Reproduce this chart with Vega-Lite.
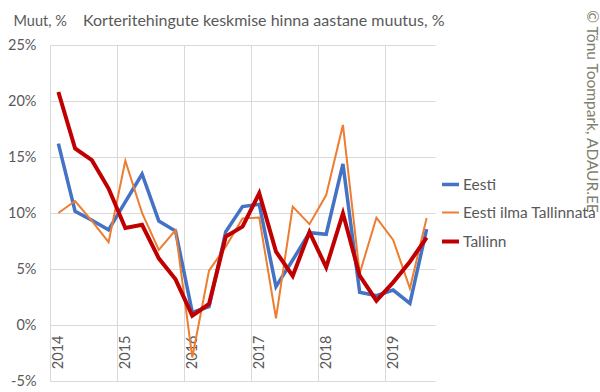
{
  "$schema": "https://vega.github.io/schema/vega-lite/v6.json",
  "width": 385,
  "height": 336,
  "autosize": {"type": "none"},
  "padding": {"left": 50, "top": 45, "right": 165, "bottom": 11},
  "background": "white",
  "config": {"font": "Lato", "view": {"stroke": null}},
  "title": {
    "text": "Korteritehingute keskmise hinna aastane muutus, %",
    "anchor": "start",
    "frame": "group",
    "dx": 33,
    "offset": -33,
    "baseline": "alphabetic",
    "fontSize": 16,
    "fontWeight": "normal",
    "color": "#595959"
  },
  "data": {
    "values": [
      {"i": 0, "Eesti": 16.2, "Eesti ilma Tallinnata": 10.0, "Tallinn": 20.8},
      {"i": 1, "Eesti": 10.15, "Eesti ilma Tallinnata": 11.07, "Tallinn": 15.76},
      {"i": 2, "Eesti": 9.35, "Eesti ilma Tallinnata": 9.3, "Tallinn": 14.72},
      {"i": 3, "Eesti": 8.5, "Eesti ilma Tallinnata": 7.4, "Tallinn": 12.18},
      {"i": 4, "Eesti": 11.0, "Eesti ilma Tallinnata": 14.66, "Tallinn": 8.66},
      {"i": 5, "Eesti": 13.48, "Eesti ilma Tallinnata": 10.0, "Tallinn": 8.95},
      {"i": 6, "Eesti": 9.29, "Eesti ilma Tallinnata": 6.7, "Tallinn": 5.95},
      {"i": 7, "Eesti": 8.39, "Eesti ilma Tallinnata": 8.48, "Tallinn": 4.08},
      {"i": 8, "Eesti": 1.13, "Eesti ilma Tallinnata": -2.9, "Tallinn": 0.83},
      {"i": 9, "Eesti": 1.64, "Eesti ilma Tallinnata": 4.85, "Tallinn": 1.88},
      {"i": 10, "Eesti": 8.33, "Eesti ilma Tallinnata": 7.0, "Tallinn": 7.89},
      {"i": 11, "Eesti": 10.57, "Eesti ilma Tallinnata": 9.52, "Tallinn": 8.78},
      {"i": 12, "Eesti": 10.77, "Eesti ilma Tallinnata": 9.6, "Tallinn": 11.76},
      {"i": 13, "Eesti": 3.42, "Eesti ilma Tallinnata": 0.6, "Tallinn": 6.55},
      {"i": 14, "Eesti": 5.8, "Eesti ilma Tallinnata": 10.57, "Tallinn": 4.38},
      {"i": 15, "Eesti": 8.24, "Eesti ilma Tallinnata": 9.0, "Tallinn": 8.3},
      {"i": 16, "Eesti": 8.1, "Eesti ilma Tallinnata": 11.6, "Tallinn": 5.15},
      {"i": 17, "Eesti": 14.38, "Eesti ilma Tallinnata": 17.86, "Tallinn": 9.97},
      {"i": 18, "Eesti": 2.92, "Eesti ilma Tallinnata": 4.6, "Tallinn": 4.4},
      {"i": 19, "Eesti": 2.62, "Eesti ilma Tallinnata": 9.58, "Tallinn": 2.17},
      {"i": 20, "Eesti": 3.12, "Eesti ilma Tallinnata": 7.6, "Tallinn": 3.81},
      {"i": 21, "Eesti": 1.93, "Eesti ilma Tallinnata": 3.27, "Tallinn": 5.65},
      {"i": 22, "Eesti": 8.57, "Eesti ilma Tallinnata": 9.55, "Tallinn": 7.8}
    ]
  },
  "transform": [
    {"fold": ["Eesti", "Eesti ilma Tallinnata", "Tallinn"], "as": ["seeria", "muutus"]}
  ],
  "layer": [
    {
      "mark": {"type": "line", "strokeJoin": "miter", "strokeCap": "butt"},
      "encoding": {
        "x": {
          "field": "i",
          "type": "quantitative",
          "scale": {"domain": [-0.5, 22.5], "nice": false, "zero": false},
          "axis": {
            "values": [-0.5, 3.5, 7.5, 11.5, 15.5, 19.5],
            "labelExpr": "'' + (2014 + (datum.value + 0.5) / 4)",
            "labelOffset": 8.37,
            "labelAngle": -90,
            "labelAlign": "right",
            "labelBaseline": "middle",
            "labelPadding": 10,
            "labelFontSize": 14.5,
            "labelColor": "#595959",
            "labelFont": "Lato",
            "ticks": false,
            "domain": false,
            "offset": -56,
            "grid": true,
            "gridColor": "#d9d9d9",
            "gridWidth": 1,
            "title": null
          }
        },
        "y": {
          "field": "muutus",
          "type": "quantitative",
          "scale": {"domain": [-5, 25], "nice": false, "zero": false},
          "axis": {
            "values": [-5, 0, 5, 10, 15, 20, 25],
            "labelExpr": "datum.value + '%'",
            "labelFontSize": 14.5,
            "labelColor": "#595959",
            "labelPadding": 14,
            "ticks": false,
            "domain": false,
            "grid": true,
            "gridColor": "#d9d9d9",
            "gridWidth": 1,
            "title": "Muut, %",
            "titleAngle": 0,
            "titleAlign": "left",
            "titleBaseline": "alphabetic",
            "titleX": -37,
            "titleY": -20,
            "titleFontSize": 14.5,
            "titleFontWeight": "normal",
            "titleColor": "#595959"
          }
        },
        "color": {
          "field": "seeria",
          "type": "nominal",
          "scale": {
            "domain": ["Eesti", "Eesti ilma Tallinnata", "Tallinn"],
            "range": ["#4472C4", "#ED7D31", "#C00000"]
          },
          "legend": {
            "title": null,
            "orient": "none",
            "legendX": 390,
            "legendY": 129,
            "symbolType": "stroke",
            "symbolSize": 289,
            "labelFontSize": 15.5,
            "labelColor": "#595959",
            "labelOffset": 2,
            "rowPadding": 10
          }
        },
        "strokeWidth": {
          "field": "seeria",
          "type": "nominal",
          "scale": {
            "type": "ordinal",
            "domain": ["Eesti", "Eesti ilma Tallinnata", "Tallinn"],
            "range": [3.5, 2, 4]
          },
          "legend": {
            "title": null,
            "orient": "none",
            "legendX": 390,
            "legendY": 129,
            "symbolType": "stroke",
            "symbolSize": 289,
            "labelFontSize": 15.5,
            "labelColor": "#595959",
            "labelOffset": 2,
            "rowPadding": 10
          }
        }
      }
    },
    {
      "mark": {"type": "line", "opacity": 0},
      "encoding": {
        "x": {"field": "i", "type": "quantitative"},
        "y": {
          "field": "muutus",
          "type": "quantitative",
          "scale": {"domain": [-5, 25], "nice": false, "zero": false},
          "axis": {
            "orient": "right",
            "labels": false,
            "ticks": false,
            "domain": false,
            "grid": false,
            "title": "© Tõnu Toompark, ADAUR.EE",
            "titleX": 156,
            "titleY": 66,
            "titleAlign": "center",
            "titleBaseline": "middle",
            "titleFontSize": 15.5,
            "titleFontWeight": "normal",
            "titleColor": "#7f7f70"
          }
        }
      }
    }
  ],
  "resolve": {"scale": {"y": "independent"}}
}
